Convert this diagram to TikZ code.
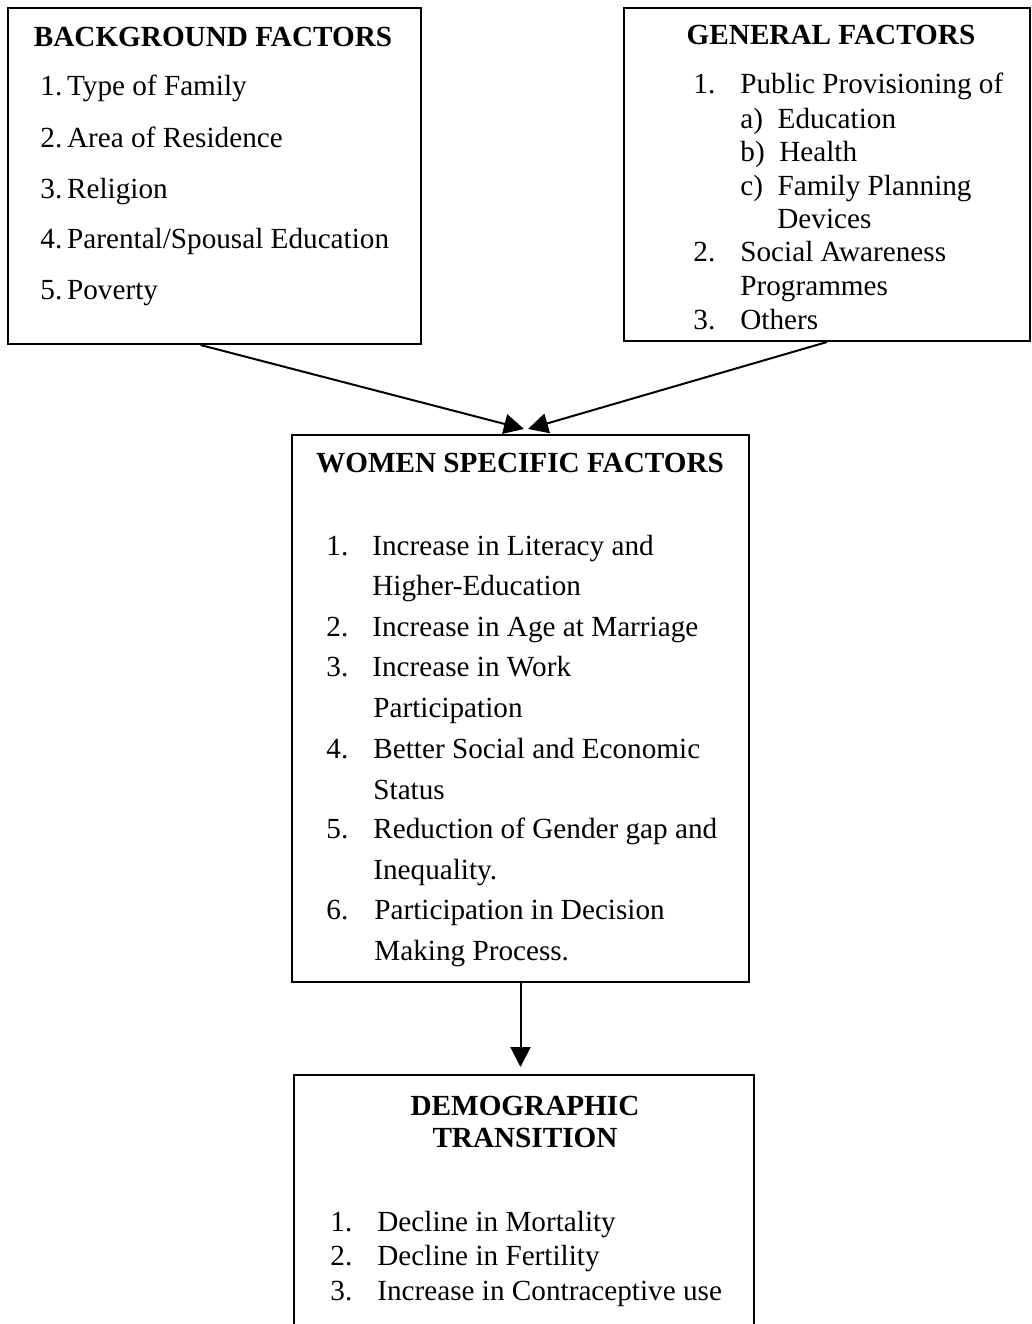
\documentclass[tikz,border=0pt]{standalone}
\usepackage{fontspec}
\setmainfont{Liberation Serif}
\usetikzlibrary{arrows.meta,fit}
\newcommand{\boxfont}{\fontsize{14.6}{17}\selectfont}
\tikzset{
  factorbox/.style={draw, line width=1pt, inner sep=0pt},
  boxhead/.style={anchor=base, inner sep=0pt, font=\boxfont\bfseries},
  boxitem/.style={anchor=base west, inner sep=0pt, font=\boxfont},
  flowarrow/.style={line width=1pt, -{Triangle[length=10pt,width=10pt]}}
}
\begin{document}
\begin{tikzpicture}[x=0.5pt, y=-0.5pt]
	\clip (0,0) rectangle (1032,1324);
	% boxes
	\node[factorbox, fit={(8,8) (421,344)}] (bg) {};
	\node[factorbox, fit={(624,8) (1030,341)}] (gen) {};
	\node[factorbox, fit={(292,435) (749,982)}] (women) {};
	\node[factorbox, fit={(294,1075) (754,1345)}] (demo) {};
	%
	% background factors
	\node[boxhead] (bghead) at (213,46) {BACKGROUND FACTORS};
	\node[boxitem] (bg1) at (40,95) {1.\,Type of Family};
	\node[boxitem] (bg2) at (40,147) {2.\,Area of Residence};
	\node[boxitem] (bg3) at (40,198) {3.\,Religion};
	\node[boxitem] (bg4) at (40,248) {4.\,Parental/Spousal Education};
	\node[boxitem] (bg5) at (40,299) {5.\,Poverty};
	%
	% general factors
	\node[boxhead] (genhead) at (831,44) {GENERAL FACTORS};
	\node[boxitem] (gen1n) at (693,93) {1.};
	\node[boxitem] (gen1) at (740,93) {Public Provisioning of};
	\node[boxitem] (gen1a) at (740,128) {a)\ \ Education};
	\node[boxitem] (gen1b) at (740,161) {b)\ \ Health};
	\node[boxitem] (gen1c) at (740,195) {c)\ \ Family Planning};
	\node[boxitem] (gen1d) at (777,228) {Devices};
	\node[boxitem] (gen2n) at (693,261) {2.};
	\node[boxitem] (gen2) at (740,261) {Social Awareness};
	\node[boxitem] (gen2b) at (740,295) {Programmes};
	\node[boxitem] (gen3n) at (693,329) {3.};
	\node[boxitem] (gen3) at (740,329) {Others};
	%
	% women specific factors
	\node[boxhead] (womenhead) at (520,472) {WOMEN SPECIFIC FACTORS};
	\node[boxitem] (w1n) at (326,555) {1.};
	\node[boxitem] (w1) at (372,555) {Increase in Literacy and};
	\node[boxitem] (w1b) at (372,595) {Higher-Education};
	\node[boxitem] (w2n) at (326,636) {2.};
	\node[boxitem] (w2) at (372,636) {Increase in Age at Marriage};
	\node[boxitem] (w3n) at (326,676) {3.};
	\node[boxitem] (w3) at (372,676) {Increase in Work};
	\node[boxitem] (w3b) at (373,717) {Participation};
	\node[boxitem] (w4n) at (326,758) {4.};
	\node[boxitem] (w4) at (373,758) {Better Social and Economic};
	\node[boxitem] (w4b) at (373,799) {Status};
	\node[boxitem] (w5n) at (326,838) {5.};
	\node[boxitem] (w5) at (373,838) {Reduction of Gender gap and};
	\node[boxitem] (w5b) at (373,879) {Inequality.};
	\node[boxitem] (w6n) at (326,919) {6.};
	\node[boxitem] (w6) at (374,919) {Participation in Decision};
	\node[boxitem] (w6b) at (374,960) {Making Process.};
	%
	% demographic transition
	\node[boxhead] (demohead) at (525,1115) {DEMOGRAPHIC};
	\node[boxhead] (demohead2) at (525,1147) {TRANSITION};
	\node[boxitem] (d1n) at (330,1231) {1.};
	\node[boxitem] (d1) at (377,1231) {Decline in Mortality};
	\node[boxitem] (d2n) at (330,1265) {2.};
	\node[boxitem] (d2) at (377,1265) {Decline in Fertility};
	\node[boxitem] (d3n) at (330,1300) {3.};
	\node[boxitem] (d3) at (377,1300) {Increase in Contraceptive use};
	%
	% connectors
	\coordinate (tipL) at (524,429);
	\coordinate (tipR) at (528,429);
	\draw[flowarrow] ([xshift=-7pt]bg.south) -- (tipL);
	\draw[flowarrow] (gen.south) -- (tipR);
	\draw[flowarrow] (women.south) -- ([yshift=3.5pt]demo.north -| women.south);
\end{tikzpicture}
\end{document}
